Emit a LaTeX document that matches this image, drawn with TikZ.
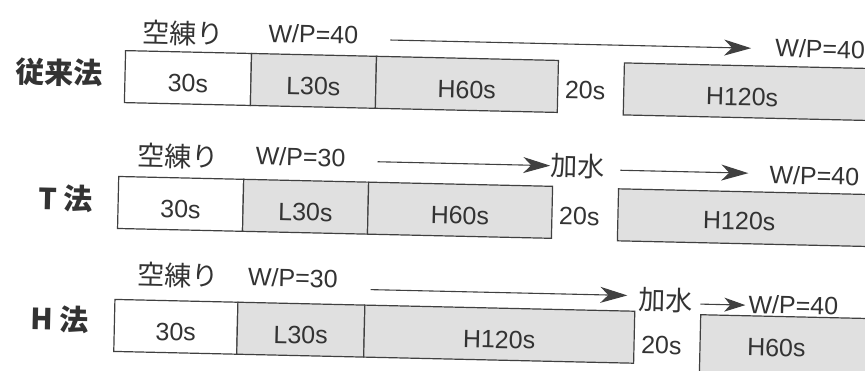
\documentclass[tikz,border=0pt]{standalone}
\usepackage{fontspec}
\setsansfont{Liberation Sans}
\newfontfamily\jpfont{Noto Sans CJK JP}
\usetikzlibrary{arrows.meta}
\definecolor{ink}{HTML}{333333}
\definecolor{linec}{HTML}{404040}
\definecolor{dotfill}{HTML}{E0E0E0}
\tikzset{
  box/.style={draw=linec, line width=1.2pt, minimum height=52pt, inner sep=0pt,
    anchor=north west, text height=28pt, text depth=0pt, text=ink,
    font=\sffamily\fontsize{25}{25}\selectfont},
  shaded/.style={box, fill=dotfill},
  lat/.style={inner sep=0pt, text=ink, font=\sffamily\fontsize{25}{25}\selectfont},
  jp/.style={inner sep=0pt, text=ink, font=\jpfont\fontsize{27}{27}\selectfont},
  method/.style={inner sep=0pt, text=ink, font=\jpfont\bfseries\fontsize{29}{29}\selectfont},
  arr/.style={draw=linec, line width=1.1pt, -{Stealth[length=27pt,width=16pt,inset=8pt]}},
  sarr/.style={draw=linec, line width=1.1pt, -{Stealth[length=21pt,width=14pt,inset=6pt]}}
}
\begin{document}
\begin{tikzpicture}[x=1pt,y=-1pt]
\useasboundingbox (0,0) rectangle (865,371);
\fill[white] (0,0) rectangle (865,371);
\clip (0,0) rectangle (865,371);
\begin{scope}[rotate around={-1.3:(432,185)}, transform shape]
% ---- Row 1
\node[method] (m1) at (57,81) {従来法};
\node[jp] (k1) at (180,39) {空練り};
\node[lat] (wp11) at (310,37) {W/P=40};
\node[lat] (wp12) at (817,40) {W/P=40};
\coordinate (a1s) at (387,41);
\draw[arr] (a1s) -- ([xshift=-24pt]wp12.west |- a1s);
\node[box, minimum width=126pt] (b11) at (122,57) {30s};
\node[shaded, minimum width=125pt] (b12) at (248,57) {L30s};
\node[shaded, minimum width=182pt] (b13) at (373,57) {H60s};
\node[lat] (s1) at (583,87) {20s};
\node[shaded, minimum width=290pt] (b15) at (621,58) {};
\node[lat] (h1) at (740,90) {H120s};
% ---- Row 2
\node[method] (m2) at (66,207) {T 法};
\node[jp] (k2) at (178,162) {空練り};
\node[lat] (wp21) at (300,160) {W/P=30};
\node[jp] (w2) at (577,163) {加水};
\node[lat] (wp22) at (814,167) {W/P=40};
\coordinate (a2s) at (377,163);
\draw[arr] (a2s) -- (w2.west |- a2s);
\coordinate (a3s) at (620,166);
\draw[arr] (a3s) -- ([xshift=-21pt]wp22.west |- a3s);
\node[box, minimum width=125pt] (b21) at (118,183) {30s};
\node[shaded, minimum width=125pt] (b22) at (243,183) {L30s};
\node[shaded, minimum width=184pt] (b23) at (368,183) {H60s};
\node[lat] (s2) at (580,213) {20s};
\node[shaded, minimum width=290pt] (b25) at (618,184) {};
\node[lat] (h2) at (740,214) {H120s};
% ---- Row 3
\node[method] (m3) at (63,328) {H 法};
\node[jp] (k3) at (180,281) {空練り};
\node[lat] (wp31) at (295,281) {W/P=30};
\node[jp] (w3) at (668,295) {加水};
\node[lat] (wp32) at (796,297) {W/P=40};
\coordinate (a4s) at (373,291);
\draw[arr] (a4s) -- ([xshift=-11pt]w3.west |- a4s);
\coordinate (a5s) at (703,298);
\draw[sarr] (a5s) -- ([xshift=-3pt]wp32.west |- a5s);
\node[box, minimum width=123pt] (b31) at (117,306) {30s};
\node[shaded, minimum width=127pt] (b32) at (240,306) {L30s};
\node[shaded, minimum width=270pt] (b33) at (367,306) {H120s};
\node[lat] (s3) at (665,340) {20s};
\node[shaded, minimum width=220pt, minimum height=60pt] (b35) at (703,308) {};
\node[lat] (h3) at (780,340) {H60s};
\end{scope}
\end{tikzpicture}
\end{document}
